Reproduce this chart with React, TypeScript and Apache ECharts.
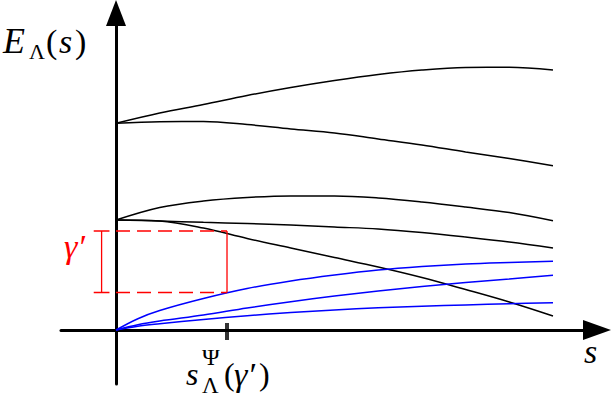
import React, { useEffect, useRef } from "react";
import * as echarts from "echarts";

// Abscissa s (0 at the E-axis, 1 at the right end of the curves)
const sGrid = [0, 0.1, 0.2, 0.3, 0.4, 0.5, 0.6, 0.7, 0.8, 0.9, 1.0];
const sBlue = [0, 0.05, 0.1, 0.2, 0.3, 0.4, 0.5, 0.6, 0.7, 0.8, 0.9, 1.0];

// Black eigenvalue branches E_Λ(s)
const black1 = [2.067, 2.17, 2.255, 2.345, 2.425, 2.495, 2.555, 2.6, 2.625, 2.627, 2.6];
const black2 = [2.067, 2.083, 2.085, 2.055, 2.01, 1.97, 1.91, 1.85, 1.78, 1.715, 1.643];
const black3 = [1.1, 1.225, 1.29, 1.325, 1.34, 1.34, 1.32, 1.28, 1.23, 1.175, 1.093];
const black4 = [1.1, 1.09, 1.077, 1.065, 1.05, 1.03, 1.01, 0.975, 0.93, 0.88, 0.82];
const black5 = [1.1, 1.09, 1.02, 0.915, 0.82, 0.725, 0.63, 0.525, 0.405, 0.28, 0.14];

// Blue branches starting at the origin
const blue1 = [0, 0.113, 0.195, 0.315, 0.415, 0.49, 0.55, 0.6, 0.635, 0.66, 0.675, 0.687];
const blue2 = [0, 0.053, 0.09, 0.15, 0.22, 0.283, 0.34, 0.39, 0.435, 0.475, 0.51, 0.547];
const blue3 = [0, 0.038, 0.062, 0.105, 0.143, 0.175, 0.2, 0.222, 0.238, 0.251, 0.263, 0.273];

// Gap γ' and the marked abscissa s_Λ^Ψ(γ')
const sPsi = 0.254;
const gapTop = 0.99;
const gapBottom = 0.375;
const bracketS = -0.033;
const bracketHalf = 0.018;

// Axis ranges
const sMin = -0.1259;
const sMax = 1.1007;
const eMin = -0.54;
const eMax = 3.17;

const zip = (xs: number[], ys: number[]) => xs.map((x, i) => [x, ys[i]]);

export default function App() {
  const ref = useRef<HTMLDivElement>(null);
  useEffect(() => {
    if (!ref.current) return;
    const chart = echarts.init(ref.current, undefined, { renderer: "svg" });
    const curve = (data: number[][], color: string) => ({
      type: "line",
      data,
      smooth: 0.35,
      symbol: "none",
      lineStyle: { color, width: 1.5 },
      silent: true,
    });
    const seg = (data: number[][], dashed = false) => ({
      type: "line",
      data,
      symbol: "none",
      lineStyle: { color: "#ff0000", width: 1.3, type: dashed ? [14, 7] : "solid" },
      silent: true,
    });
    const txt = (text: string, x: number, y: number, size: number, italic: boolean, color = "#000") => ({
      type: "text",
      x,
      y,
      style: {
        text,
        fill: color,
        font: `${italic ? "italic " : ""}${size}px "Liberation Serif", "DejaVu Serif", serif`,
        align: "left",
        verticalAlign: "middle",
      },
    });
    chart.setOption({
      animation: false,
      grid: { left: 61, right: 14, top: 13, bottom: 13 },
      xAxis: {
        type: "value",
        min: sMin,
        max: sMax,
        axisLine: {
          onZero: true,
          lineStyle: { color: "#000", width: 3 },
          symbol: ["none", "triangle"],
          symbolSize: [20, 28],
        },
        axisTick: { show: false },
        axisLabel: { show: false },
        splitLine: { show: false },
      },
      yAxis: {
        type: "value",
        min: eMin,
        max: eMax,
        axisLine: {
          onZero: true,
          lineStyle: { color: "#000", width: 3 },
          symbol: ["none", "triangle"],
          symbolSize: [20, 26],
        },
        axisTick: { show: false },
        axisLabel: { show: false },
        splitLine: { show: false },
      },
      series: [
        curve(zip(sGrid, black1), "#000"),
        curve(zip(sGrid, black2), "#000"),
        curve(zip(sGrid, black3), "#000"),
        curve(zip(sGrid, black4), "#000"),
        curve(zip(sGrid, black5), "#000"),
        curve(zip(sBlue, blue1), "#0000ff"),
        curve(zip(sBlue, blue2), "#0000ff"),
        curve(zip(sBlue, blue3), "#0000ff"),
        seg([[0, gapTop], [sPsi, gapTop]], true),
        seg([[0, gapBottom], [sPsi, gapBottom]], true),
        seg([[sPsi, gapTop], [sPsi, gapBottom]]),
        seg([[bracketS, gapTop], [bracketS, gapBottom]]),
        seg([[bracketS - bracketHalf, gapTop], [bracketS + bracketHalf, gapTop]]),
        seg([[bracketS - bracketHalf, gapBottom], [bracketS + bracketHalf, gapBottom]]),
        {
          type: "scatter",
          data: [[sPsi, -0.015]],
          symbol: "rect",
          symbolSize: [4, 17],
          itemStyle: { color: "#000" },
          silent: true,
        },
      ],
      graphic: [
        txt("E", 3, 41, 36, true),
        txt("Λ", 29, 51, 22, false),
        txt("(", 46, 41.5, 34, false),
        txt("s", 59, 41.5, 34, true),
        txt(")", 75, 41.5, 34, false),
        txt("s", 584, 351.5, 34, true),
        txt("γ′", 64, 246.5, 34, true, "#ff0000"),
        txt("s", 186, 374, 32, true),
        txt("Ψ", 202, 357, 24, false),
        txt("Λ", 202, 385, 23, false),
        txt("(", 224, 374, 32, false),
        txt("γ′", 234, 374, 34, true),
        txt(")", 259, 374, 32, false),
      ],
    });
    return () => chart.dispose();
  }, []);
  return <div ref={ref} style={{ width: 611, height: 397, position: "absolute", left: 0, top: 0 }} />;
}
